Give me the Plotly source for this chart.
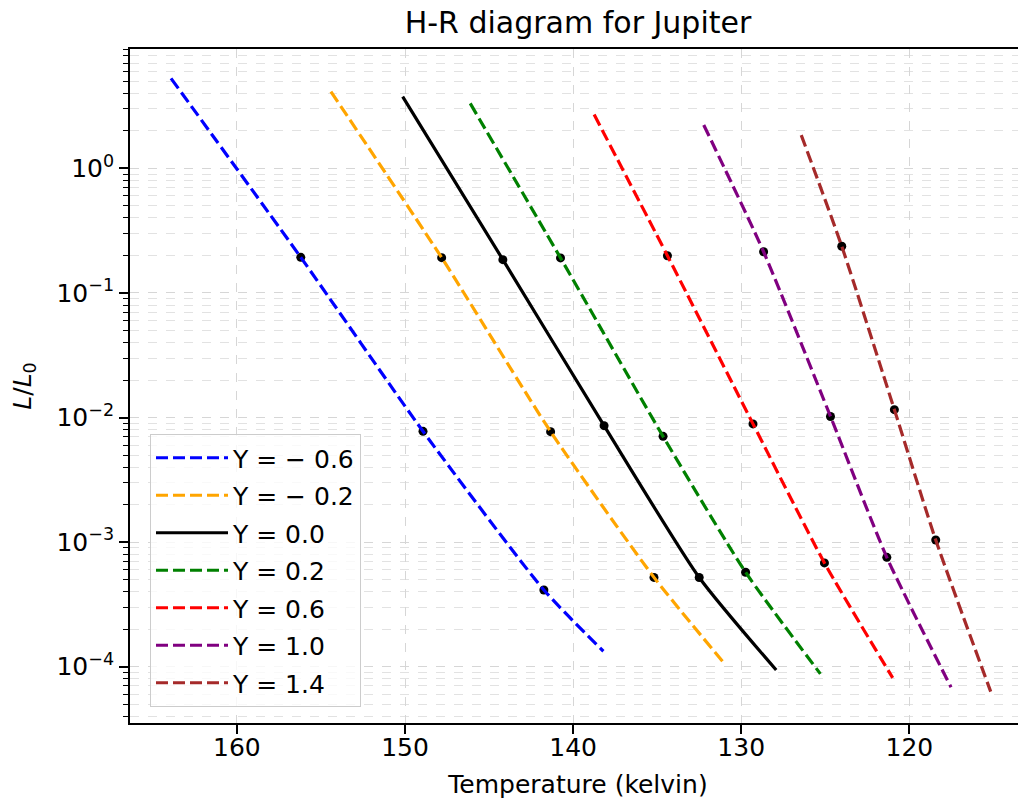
import plotly.graph_objects as go

# ---- data (temperature in K, luminosity L/L0) ----
labels = ["Y = − 0.6", "Y = − 0.2", "Y = 0.0", "Y = 0.2", "Y = 0.6", "Y = 1.0", "Y = 1.4"]
colors = ["blue", "orange", "black", "green", "red", "purple", "brown"]
dashes = ["12px,5px", "12px,5px", "solid", "12px,5px", "12px,5px", "12px,5px", "12px,5px"]

temp_m06 = [163.92, 156.20, 148.93, 141.74, 138.20]
lum_m06 = [5.28, 0.193, 0.00775, 4.13e-4, 1.33e-4]

temp_m02 = [154.41, 147.82, 141.34, 135.19, 130.95]
lum_m02 = [4.13, 0.192, 0.0077, 5.21e-4, 1.04e-4]

temp_000 = [150.14, 144.18, 138.16, 132.50, 127.92]
lum_000 = [3.76, 0.185, 0.0086, 5.2e-4, 9.4e-5]

temp_p02 = [146.12, 140.75, 134.65, 129.74, 125.29]
lum_p02 = [3.32, 0.191, 0.00706, 5.73e-4, 8.75e-5]

temp_p06 = [138.75, 134.39, 129.30, 125.05, 120.99]
lum_p06 = [2.70, 0.199, 0.00889, 6.81e-4, 8.13e-5]

temp_p10 = [132.23, 128.67, 124.69, 121.34, 117.52]
lum_p10 = [2.23, 0.214, 0.0102, 7.55e-4, 6.84e-5]

temp_p14 = [126.43, 124.02, 120.89, 118.43, 115.16]
lum_p14 = [1.85, 0.237, 0.01157, 1.04e-3, 6.31e-5]

# black sample points lying on the tracks
pts_temp = [156.20, 148.93, 141.74,
            147.82, 141.34, 135.19,
            144.18, 138.16, 132.50,
            140.75, 134.65, 129.74,
            134.39, 129.30, 125.05,
            128.67, 124.69, 121.34,
            124.02, 120.89, 118.43]
pts_lum = [0.193, 0.00775, 4.13e-4,
           0.192, 0.0077, 5.21e-4,
           0.185, 0.0086, 5.2e-4,
           0.191, 0.00706, 5.73e-4,
           0.199, 0.00889, 6.81e-4,
           0.214, 0.0102, 7.55e-4,
           0.237, 0.01157, 1.04e-3]

x_ticks = [160, 150, 140, 130, 120]
y_ticks = [1e-4, 1e-3, 1e-2, 1e-1, 1]
y_ticktext = ["10<sup>−4</sup>", "10<sup>−3</sup>", "10<sup>−2</sup>", "10<sup>−1</sup>", "10<sup>0</sup>"]
y_minor = [m * 10.0 ** e for e in range(-5, 1) for m in range(2, 10)]

series_t = [temp_m06, temp_m02, temp_000, temp_p02, temp_p06, temp_p10, temp_p14]
series_l = [lum_m06, lum_m02, lum_000, lum_p02, lum_p06, lum_p10, lum_p14]

FONT = "DejaVu Sans"
# the page body has an 8px default margin: the figure is sized to fit the window
W, H = 1018, 791

fig = go.Figure()

fig.add_trace(go.Scatter(
    x=pts_temp, y=pts_lum, mode="markers", showlegend=False,
    marker=dict(color="black", size=9, line=dict(width=0)),
    hoverinfo="skip",
))

for i, (t, l) in enumerate(zip(series_t, series_l)):
    fig.add_trace(go.Scatter(
        x=t, y=l, mode="lines", name=labels[i], legendgroup=f"g{i}",
        line=dict(color=colors[i], width=3.2, dash=dashes[i], shape="spline", smoothing=0.6),
    ))

grid_col = "#d6d6d6"
fig.update_layout(
    width=W, height=H,
    margin=dict(l=122, r=0, t=41, b=76, pad=0),
    paper_bgcolor="white", plot_bgcolor="white",
    font=dict(family=FONT, size=25, color="black"),
    title=dict(text="H-R diagram for Jupiter", x=0.5, xref="paper", xanchor="center",
               y=1 - 14 / H, yref="container", yanchor="middle",
               font=dict(family=FONT, size=30, color="black")),
    showlegend=True,
    legend=dict(x=(150 - 130) / 896, y=(723 - 707) / 674, xanchor="left", yanchor="bottom",
                bgcolor="rgba(255,255,255,0.8)", bordercolor="#cccccc", borderwidth=1,
                font=dict(family=FONT, size=25, color="black"),
                tracegroupgap=2, traceorder="grouped", itemwidth=72),
    xaxis=dict(
        range=[166.36, 113.06], tickmode="array", tickvals=x_ticks,
        ticks="outside", ticklen=9, tickwidth=1.8, tickcolor="black",
        showline=True, linewidth=1.8, linecolor="black", mirror=True,
        showgrid=True, gridcolor=grid_col, griddash="dash", gridwidth=1,
        zeroline=False, tickfont=dict(size=25), ticklabelstandoff=-8,
        title=dict(text="Temperature (kelvin)", font=dict(size=25), standoff=16),
    ),
    yaxis=dict(
        type="log", range=[-4.452, 0.958], tickmode="array",
        tickvals=y_ticks, ticktext=y_ticktext,
        ticks="outside", ticklen=9, tickwidth=1.8, tickcolor="black",
        showline=True, linewidth=1.8, linecolor="black", mirror=False,
        showgrid=True, gridcolor=grid_col, griddash="dash", gridwidth=1,
        zeroline=False, tickfont=dict(size=25),
        minor=dict(tickmode="array", tickvals=y_minor, ticks="outside", ticklen=5,
                   tickwidth=1.3, tickcolor="black", showgrid=True,
                   gridcolor="#e2e2e2", griddash="dash", gridwidth=1),
        title=dict(text="<i>L</i>/<i>L</i><sub>0</sub>", font=dict(size=25), standoff=18),
    ),
)

fig.write_html("out.html")
